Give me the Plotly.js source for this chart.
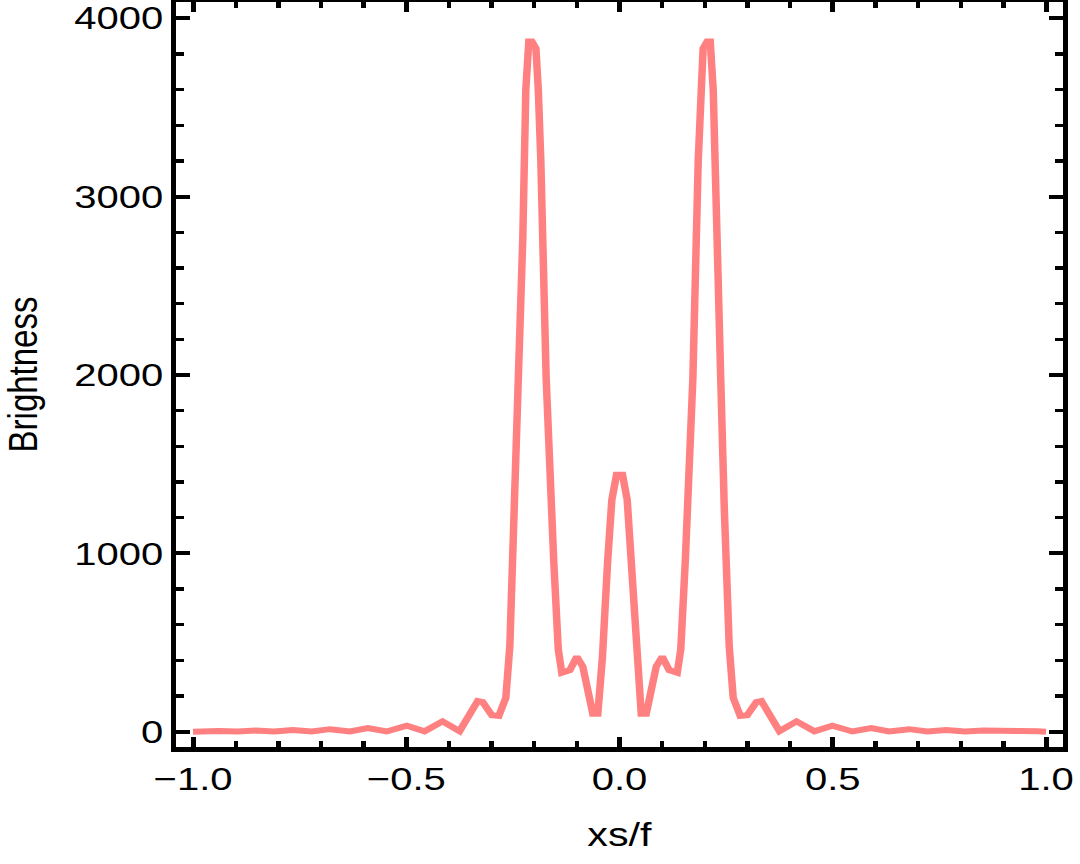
<!DOCTYPE html>
<html><head><meta charset="utf-8">
<script src="https://cdn.plot.ly/plotly-3.0.1.min.js"></script>
<style>
html,body{margin:0;padding:0;overflow:hidden;background:#fff;width:1080px;height:864px}
#wrap{width:864px;height:864px;transform:scaleX(1.25);transform-origin:0 0}
</style></head><body>
<div id="wrap"><div id="chart" style="width:864px;height:864px"></div></div>
<script>
const xsf = [
 -1.0, -0.98, -0.94, -0.895, -0.853, -0.81, -0.766, -0.722, -0.679, -0.632, -0.59, -0.546, -0.499, -0.457, -0.415, -0.375,
 -0.3326, -0.3209, -0.2994, -0.2830, -0.2666, -0.2572, -0.2455, -0.2373, -0.2267, -0.2197, -0.2127, -0.2056, -0.196, -0.1905,
 -0.1845, -0.172, -0.1658, -0.1541, -0.1436, -0.1353, -0.1165, -0.1001, -0.0861, -0.0626, -0.0509, -0.040, -0.028, -0.018, -0.007,
 0.007, 0.018, 0.028, 0.040, 0.0509, 0.0626, 0.0861, 0.1001, 0.1165, 0.1353, 0.1436, 0.1541, 0.1658, 0.172, 0.1845,
 0.1905, 0.196, 0.2056, 0.2127, 0.2197, 0.2267, 0.2373, 0.2455, 0.2572, 0.2666, 0.2830, 0.2994, 0.3209, 0.3326,
 0.375, 0.415, 0.457, 0.499, 0.546, 0.59, 0.632, 0.679, 0.722, 0.766, 0.81, 0.853, 0.895, 0.94, 0.98, 1.0
];
const brightness = [
 0, 2, 4, 1, 6, 1, 9, 1, 14, 1, 20, 1, 33, 2, 58, 3,
 172, 166, 92, 88, 190, 480, 1264, 1980, 2775, 3600, 3870, 3870, 3830, 3600,
 3200, 1980, 1510, 950, 460, 330, 345, 420, 365, 100, 100, 420, 950, 1300, 1440,
 1440, 1300, 950, 420, 100, 100, 365, 420, 345, 330, 460, 950, 1510, 1980, 3200,
 3600, 3830, 3870, 3870, 3600, 2775, 1980, 1264, 480, 190, 88, 92, 166, 172,
 3, 58, 2, 33, 1, 20, 1, 14, 1, 9, 1, 6, 1, 4, 2, 0
];
const xTickVals = [-1, -0.5, 0, 0.5, 1];
const xTickText = ['\u22121.0', '\u22120.5', '0.0', '0.5', '1.0'];
const yTickVals = [0, 1000, 2000, 3000, 4000];
const yTickText = ['0', '1000', '2000', '3000', '4000'];
const xTitle = 'xs/f';
const yTitle = 'Brightness';

const FONT = '"Liberation Sans", Arial, sans-serif';
const trace = {
  x: xsf, y: brightness, type: 'scatter', mode: 'lines',
  line: {color: 'rgb(255,128,128)', width: 6},
  hoverinfo: 'skip'
};
const layout = {
  width: 864, height: 864,
  margin: {l: 141.2, r: 14, t: 2, b: 117},
  paper_bgcolor: '#fff', plot_bgcolor: '#fff',
  showlegend: false,
  font: {family: FONT, color: '#000', size: 32},
  xaxis: {
    range: [-1.0394, 1.0387], showgrid: false, zeroline: false,
    showline: true, linewidth: 4.5, linecolor: '#000', mirror: 'allticks',
    ticks: 'inside', ticklen: 10, tickwidth: 4, tickcolor: '#000',
    tickvals: xTickVals, ticktext: xTickText,
    tickfont: {family: FONT, size: 32, color: '#000'},
    minor: {dtick: 0.1, tick0: 0, ticks: 'inside', ticklen: 6, tickwidth: 3.5, tickcolor: '#000'},
    title: {text: xTitle, font: {family: FONT, size: 33, color: '#000'}, standoff: 28},
    automargin: false
  },
  yaxis: {
    range: [-86, 4091], showgrid: false, zeroline: false,
    showline: true, linewidth: 4, linecolor: '#000', mirror: 'allticks',
    ticks: 'inside', ticklen: 11, tickwidth: 4, tickcolor: '#000',
    tickvals: yTickVals, ticktext: yTickText,
    tickfont: {family: FONT, size: 32, color: '#000'},
    minor: {dtick: 200, tick0: 0, ticks: 'inside', ticklen: 6, tickwidth: 3.5, tickcolor: '#000'},
    title: {text: yTitle, font: {family: FONT, size: 33, color: '#000'}, standoff: 20},
    automargin: false
  }
};
Plotly.newPlot('chart', [trace], layout, {displayModeBar: false, staticPlot: true});
</script>
</body></html>
